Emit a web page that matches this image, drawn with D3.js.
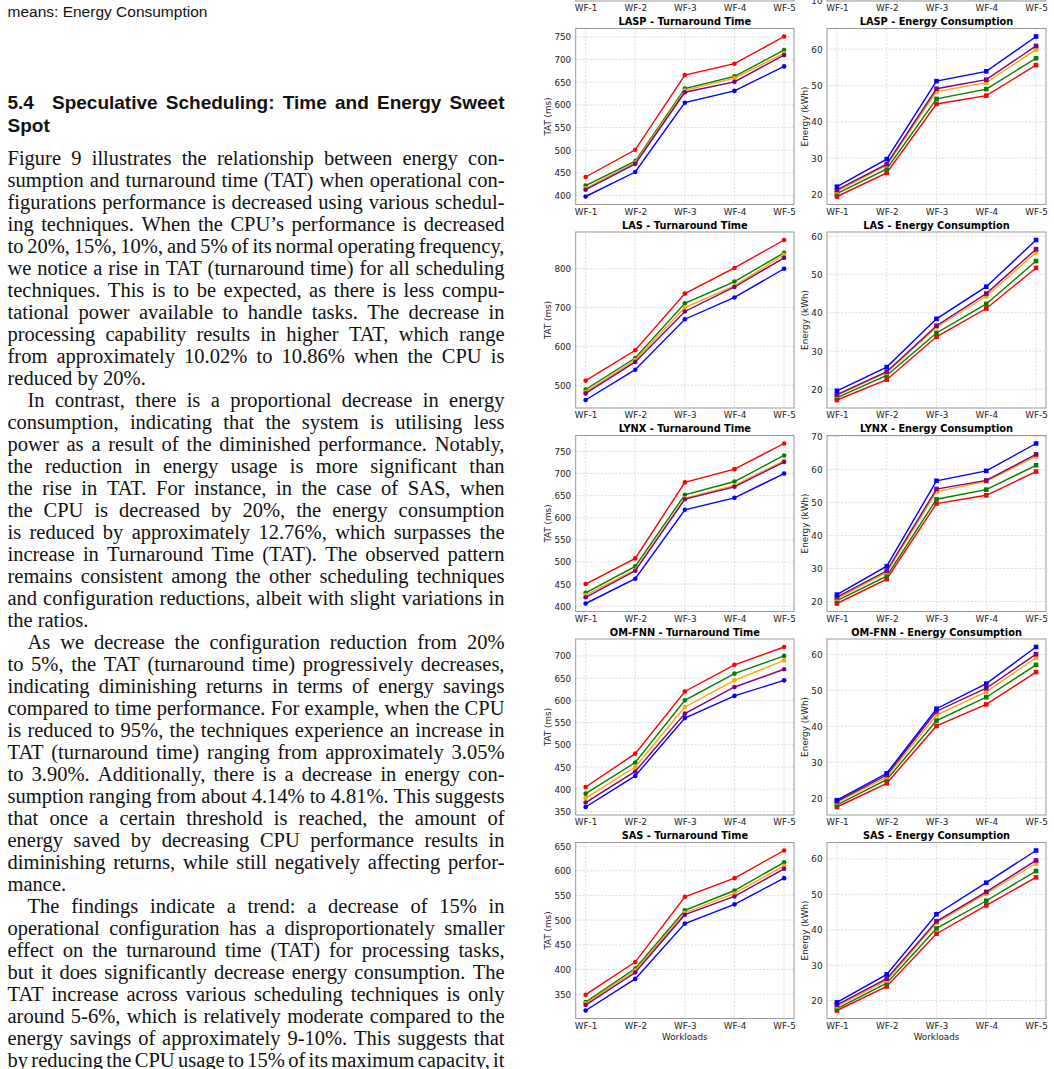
<!DOCTYPE html>
<html>
<head>
<meta charset="utf-8">
<script src="https://cdn.jsdelivr.net/npm/d3@7"></script>
<style>
  body { margin: 0; background: #fff; }
  svg { display: block; }
</style>
</head>
<body>
<svg id="page" width="1054" height="1069"></svg>
<script>
// ---- chart data ----
const workloads = ["WF-1", "WF-2", "WF-3", "WF-4", "WF-5"];
const techniques = ["LASP", "LAS", "LYNX", "OM-FNN", "SAS"];
// series order: 20%, 15%, 10%, 5% reduction, normal
const seriesNames = ["20%", "15%", "10%", "5%", "Normal"];
const seriesColors = ["red", "green", "orange", "purple", "blue"];

const laspTat = [[441, 501, 666, 691, 751], [422, 476, 636, 663, 721], [416, 473, 632, 659, 714], [413, 470, 628, 651, 710], [398, 452, 605, 631, 685]];
const lasTat = [[512, 590, 736, 802, 874], [489, 570, 711, 767, 841], [483, 565, 700, 756, 836], [479, 560, 690, 753, 828], [462, 540, 670, 726, 800]];
const lynxTat = [[450, 508, 680, 710, 768], [430, 490, 652, 682, 741], [425, 482, 644, 673, 729], [420, 480, 642, 670, 726], [406, 462, 618, 645, 700]];
const omfnnTat = [[405, 480, 620, 680, 720], [390, 460, 600, 660, 700], [380, 450, 585, 645, 690], [370, 440, 570, 630, 670], [360, 430, 560, 610, 645]];
const sasTat = [[349, 415, 547, 585, 641], [334, 402, 520, 560, 617], [331, 398, 515, 554, 610], [328, 394, 511, 548, 604], [317, 381, 493, 532, 585]];

const laspEnergy = [[19.4, 25.9, 44.9, 47.2, 55.6], [20.2, 27.0, 46.3, 49.0, 57.5], [20.8, 28.0, 48.3, 50.8, 59.9], [21.2, 28.3, 49.1, 51.6, 60.9], [22.1, 29.7, 51.2, 53.9, 63.5]];
const lasEnergy = [[17.2, 22.5, 33.7, 41.1, 51.7], [17.8, 23.6, 34.7, 42.3, 53.5], [18.4, 24.4, 36.2, 44.3, 55.8], [18.6, 24.6, 36.6, 45.0, 56.6], [19.6, 25.8, 38.4, 46.8, 59.0]];
const lynxEnergy = [[19.4, 26.8, 49.7, 52.2, 59.4], [20.3, 27.7, 51.0, 53.9, 61.3], [20.9, 28.9, 53.3, 56.4, 64.0], [21.3, 29.3, 54.1, 56.7, 64.6], [22.1, 30.7, 56.6, 59.6, 67.9]];
const omfnnEnergy = [[17.5, 24.1, 40.1, 46.1, 55.1], [18.1, 25.1, 41.6, 48.1, 57.1], [18.8, 25.9, 43.1, 49.6, 59.1], [19.1, 26.4, 44.2, 50.6, 60.1], [19.4, 26.9, 44.9, 51.9, 62.1]];
const sasEnergy = [[17.2, 24.0, 38.9, 46.9, 54.8], [17.7, 24.9, 40.4, 48.2, 56.6], [18.4, 25.7, 42.0, 50.2, 58.8], [18.8, 26.2, 42.4, 50.7, 59.6], [19.5, 27.4, 44.4, 53.3, 62.4]];

const tatTicks = [
  [400, 450, 500, 550, 600, 650, 700, 750],
  [500, 600, 700, 800],
  [400, 450, 500, 550, 600, 650, 700, 750],
  [350, 400, 450, 500, 550, 600, 650, 700],
  [350, 400, 450, 500, 550, 600, 650]
];
const energyTicks = [
  [20, 30, 40, 50, 60],
  [20, 30, 40, 50, 60],
  [20, 30, 40, 50, 60, 70],
  [20, 30, 40, 50, 60],
  [20, 30, 40, 50, 60]
];
const tatData = [laspTat, lasTat, lynxTat, omfnnTat, sasTat];
const energyData = [laspEnergy, lasEnergy, lynxEnergy, omfnnEnergy, sasEnergy];

// ---- page text ----
const captionTail = "means: Energy Consumption";
const headingLine1 = "Speculative Scheduling: Time and Energy Sweet";
const headingLine2 = "Spot";
const paragraphs = [
  [
    "Figure 9 illustrates the relationship between energy con-",
    "sumption and turnaround time (TAT) when operational con-",
    "figurations performance is decreased using various schedul-",
    "ing techniques. When the CPU\u2019s performance is decreased",
    "to 20%, 15%, 10%, and 5% of its normal operating frequency,",
    "we notice a rise in TAT (turnaround time) for all scheduling",
    "techniques. This is to be expected, as there is less compu-",
    "tational power available to handle tasks. The decrease in",
    "processing capability results in higher TAT, which range",
    "from approximately 10.02% to 10.86% when the CPU is",
    "reduced by 20%."
  ],
  [
    "In contrast, there is a proportional decrease in energy",
    "consumption, indicating that the system is utilising less",
    "power as a result of the diminished performance. Notably,",
    "the reduction in energy usage is more significant than",
    "the rise in TAT. For instance, in the case of SAS, when",
    "the CPU is decreased by 20%, the energy consumption",
    "is reduced by approximately 12.76%, which surpasses the",
    "increase in Turnaround Time (TAT). The observed pattern",
    "remains consistent among the other scheduling techniques",
    "and configuration reductions, albeit with slight variations in",
    "the ratios."
  ],
  [
    "As we decrease the configuration reduction from 20%",
    "to 5%, the TAT (turnaround time) progressively decreases,",
    "indicating diminishing returns in terms of energy savings",
    "compared to time performance. For example, when the CPU",
    "is reduced to 95%, the techniques experience an increase in",
    "TAT (turnaround time) ranging from approximately 3.05%",
    "to 3.90%. Additionally, there is a decrease in energy con-",
    "sumption ranging from about 4.14% to 4.81%. This suggests",
    "that once a certain threshold is reached, the amount of",
    "energy saved by decreasing CPU performance results in",
    "diminishing returns, while still negatively affecting perfor-",
    "mance."
  ],
  [
    "The findings indicate a trend: a decrease of 15% in",
    "operational configuration has a disproportionately smaller",
    "effect on the turnaround time (TAT) for processing tasks,",
    "but it does significantly decrease energy consumption. The",
    "TAT increase across various scheduling techniques is only",
    "around 5-6%, which is relatively moderate compared to the",
    "energy savings of approximately 9-10%. This suggests that",
    "by reducing the CPU usage to 15% of its maximum capacity, it"
  ]
];

const svg = d3.select("#page");

// ---- text column ----
const textLeft = 7.5, textRight = 504.5;
const bodyFont = "font-family:'Liberation Serif',serif;font-size:20.5px;fill:#111";
const headFont = "font-family:'Liberation Sans',sans-serif;font-size:19px;font-weight:bold;fill:#111";
const capFont = "font-family:'Liberation Sans',sans-serif;font-size:15.5px;fill:#111";
const textG = svg.append("g");

function setLine(words, x0, x1, y, style, justify, space) {
  const nodes = words.map(w => textG.append("text").attr("y", y).attr("style", style).text(w));
  const widths = nodes.map(n => n.node().getComputedTextLength());
  const gap = justify && words.length > 1
    ? (x1 - x0 - d3.sum(widths)) / (words.length - 1)
    : space;
  let x = x0;
  nodes.forEach((n, i) => { n.attr("x", x); x += widths[i] + gap; });
}

setLine(captionTail.split(" "), textLeft, textRight, 16.5, capFont, false, 4.3);
textG.append("text").attr("x", textLeft).attr("y", 109).attr("style", headFont).text("5.4");
setLine(headingLine1.split(" "), 52, textRight, 109, headFont, true, 5.5);
setLine([headingLine2], textLeft, textRight, 131.5, headFont, false, 5.5);

let lineNo = 0;
paragraphs.forEach((para, p) => {
  para.forEach((line, i) => {
    const y = 164.5 + 22 * lineNo;
    const x0 = i === 0 && p > 0 ? textLeft + 20 : textLeft;
    const last = i === para.length - 1 && p < paragraphs.length - 1;
    setLine(line.split(" "), x0, textRight, y, bodyFont, !last, 5.1);
    lineNo++;
  });
});

// ---- small multiples ----
const cols = [
  { left: 575.7, right: 794, ylabel: "TAT (ms)", labelX: 548.3, metric: "Turnaround Time", marker: "circle" },
  { left: 827, right: 1046, ylabel: "Energy (kWh)", labelX: 805.3, metric: "Energy Consumption", marker: "square" }
];
const rowTop = i => 28.5 + 203.5 * i;
const plotH = 176;
const tickFont = "font-family:'DejaVu Sans',sans-serif;font-size:8.8px;fill:#222";
const titleFont = "font-family:'DejaVu Sans',sans-serif;font-size:9.8px;font-weight:bold;fill:#000";

function drawPanel(col, top, values, ticks, title, yDomain, lastRow) {
  const g = svg.append("g");
  const x = d3.scalePoint().domain(workloads).range([col.left, col.right]).padding(0.2);
  let dom = yDomain;
  if (!dom) {
    const ext = d3.extent(values.flat());
    const pad = (ext[1] - ext[0]) * 0.05;
    dom = [ext[0] - pad, ext[1] + pad];
  }
  const y = d3.scaleLinear().domain(dom).range([top + plotH, top]);

  // grid
  g.append("g").selectAll("line").data(workloads).join("line")
    .attr("x1", d => x(d)).attr("x2", d => x(d))
    .attr("y1", top).attr("y2", top + plotH);
  g.append("g").selectAll("line").data(ticks).join("line")
    .attr("x1", col.left).attr("x2", col.right)
    .attr("y1", d => y(d)).attr("y2", d => y(d));
  g.selectAll("line").attr("stroke", "#d0d0d0").attr("stroke-width", 0.75).attr("stroke-dasharray", "2,1.6");

  // x axis
  const xa = g.append("g").attr("transform", `translate(0,${top + plotH})`)
    .call(d3.axisBottom(x).tickSize(0).tickPadding(10));
  xa.select(".domain").remove();
  xa.selectAll("text").attr("style", tickFont).attr("dy", 0);

  // y axis
  const ya = g.append("g").attr("transform", `translate(${col.left},0)`)
    .call(d3.axisLeft(y).tickValues(ticks).tickFormat(d3.format("d")).tickSize(0).tickPadding(4.5));
  ya.select(".domain").remove();
  ya.selectAll("text").attr("style", tickFont).attr("dy", "0.34em");

  // frame
  g.append("rect").attr("x", col.left).attr("y", top)
    .attr("width", col.right - col.left).attr("height", plotH)
    .attr("fill", "none").attr("stroke", "#999").attr("stroke-width", 1);

  if (title) {
    g.append("text").attr("x", (col.left + col.right) / 2).attr("y", top - 3.5)
      .attr("text-anchor", "middle").attr("style", titleFont).text(title);
    g.append("text")
      .attr("transform", `translate(${col.labelX},${top + plotH / 2}) rotate(-90)`)
      .attr("text-anchor", "middle").attr("dy", "0.35em").attr("style", tickFont).text(col.ylabel);
  }
  if (lastRow) {
    g.append("text").attr("x", (col.left + col.right) / 2).attr("y", top + plotH + 21.5)
      .attr("text-anchor", "middle").attr("style", tickFont).text("Workloads");
  }

  // series
  const line = d3.line().x((d, i) => x(workloads[i])).y(d => y(d));
  values.forEach((vals, s) => {
    const sg = g.append("g").attr("class", "series-" + s);
    sg.append("path").attr("d", line(vals)).attr("fill", "none")
      .attr("stroke", seriesColors[s]).attr("stroke-width", 1.4);
    if (col.marker === "circle") {
      sg.selectAll("circle").data(vals).join("circle")
        .attr("cx", (d, i) => x(workloads[i])).attr("cy", d => y(d))
        .attr("r", 2.3).attr("fill", seriesColors[s]);
    } else {
      sg.selectAll("rect").data(vals).join("rect")
        .attr("x", (d, i) => x(workloads[i]) - 2.3).attr("y", d => y(d) - 2.3)
        .attr("width", 4.6).attr("height", 4.6).attr("fill", seriesColors[s]);
    }
  });
}

// bottom edge of the previous figure row, cut off by the page top
drawPanel(cols[0], rowTop(-1), [], [], null, [360, 770], false);
drawPanel(cols[1], rowTop(-1), [], [10], null, [9.8, 70], false);

techniques.forEach((t, i) => {
  const last = i === techniques.length - 1;
  drawPanel(cols[0], rowTop(i), tatData[i], tatTicks[i], `${t} - ${cols[0].metric}`, null, last);
  drawPanel(cols[1], rowTop(i), energyData[i], energyTicks[i], `${t} - ${cols[1].metric}`, null, last);
});
</script>
</body>
</html>
